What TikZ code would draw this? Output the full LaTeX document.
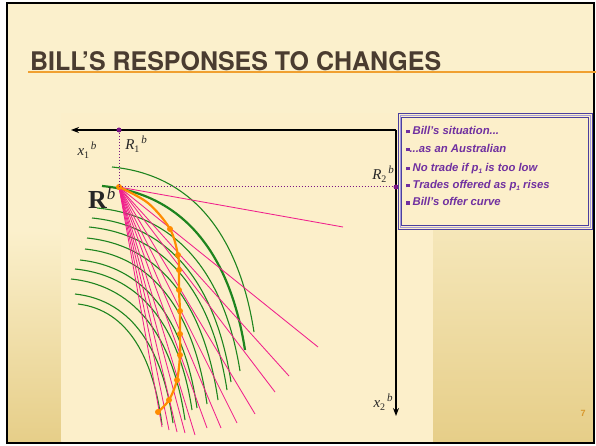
\documentclass[tikz,border=0pt]{standalone}
\usepackage{fontspec}
\setmainfont{Liberation Serif}
\newfontfamily\boxfont{Liberation Sans}
\newfontfamily\titlefont{TeX Gyre Heros}
\usetikzlibrary{arrows.meta}
\definecolor{pale}{HTML}{FBF0CC}
\definecolor{gold}{HTML}{E6CE88}
\definecolor{panel}{HTML}{FCEFCA}
\definecolor{titlebrown}{HTML}{4A3C30}
\definecolor{titleline}{HTML}{F0A030}
\definecolor{icgreen}{HTML}{1E841E}
\definecolor{budget}{HTML}{F0208C}
\definecolor{offer}{HTML}{FF8C00}
\definecolor{dotpurple}{HTML}{7A1585}
\definecolor{boxtext}{HTML}{7030A0}
\definecolor{boxdark}{HTML}{4B3F9E}
\definecolor{boxlight}{HTML}{A49ADA}
\definecolor{pagenum}{HTML}{D8982E}
\newcommand\sqb{\textcolor{boxtext}{\rule[1.5pt]{3.3pt}{3.3pt}}}
\newcommand\sbone{\raisebox{-1.3pt}{\fontsize{6.5}{6.5}\selectfont 1}}
\newcommand\axlab[3]{{\fontsize{15}{15}\selectfont\textit{#1}\raisebox{-3.5pt}{\fontsize{10}{10}\selectfont #2}\raisebox{6pt}{\fontsize{11}{11}\selectfont\,\textit{#3}}}}
\tikzset{
  axis/.style={black, line width=1.4pt, -{Stealth[length=8pt,width=6pt]}},
  icurve/.style={icgreen, line width=1.1pt},
  icthick/.style={icgreen, line width=2.2pt},
  budgetline/.style={budget, line width=0.85pt},
  offercurve/.style={offer, line width=2.2pt},
  odot/.style={circle, fill=offer, inner sep=0pt, minimum size=6pt},
  pdot/.style={circle, fill=dotpurple, inner sep=0pt, minimum size=5pt},
  guide/.style={dotpurple, line width=1pt, dotted},
  boxline/.style={anchor=base west, inner sep=0pt, text=boxtext, font=\boxfont\bfseries\itshape\fontsize{11.3}{13}\selectfont},
  lab/.style={inner sep=0pt, text=black!85}
}
\begin{document}
\begin{tikzpicture}[x=1pt,y=-1pt]
\useasboundingbox (0,0) rectangle (596,446);
% slide background
\fill[white] (0,0) rectangle (596,446);
\fill[pale] (7,3) rectangle (594,443);
\shade[top color=pale, bottom color=gold] (433,150) rectangle (594,443);
\shade[top color=pale, bottom color=gold] (7,230) rectangle (61,443);
\fill[panel] (61,113) rectangle (433,441);
\draw[black, line width=1.6pt] (7,3) rectangle (594,443);
% title
\draw[titleline, line width=2pt] (28,72) -- (596,72);
\node[anchor=south west, inner sep=0pt, text=titlebrown] (title) at (30,71)
  {\resizebox{411pt}{19pt}{\titlefont\bfseries BILL’S RESPONSES TO CHANGES}};
% axes
\coordinate (O) at (396,130);
\coordinate (xend) at (71,130);
\coordinate (yend) at (396,416);
\draw[axis] (O) -- (xend);
\draw[axis] (O) -- (yend);
% indifference curves
\foreach \sx/\sy/\ex/\ey in {112/167/254/332, 97/208/240/371, 92/218/231/382, 89/227/227/390,
  87/238/218/400, 85/249/207/404, 80/260/197/408, 75/269/192/410, 71/279/185/420,
  75/294/173/423, 78/304/162/425}
  \draw[icurve] (\sx,\sy) .. controls ({\sx+0.6*(\ex-\sx)},{\sy+0.05*(\ey-\sy)}) and ({\ex-0.1*(\ex-\sx)},{\sy+0.45*(\ey-\sy)}) .. (\ex,\ey);
\draw[icthick] (102,186) .. controls (188,194) and (231,260) .. (245,350);
% endowment
\coordinate (E) at (119,187);
% budget lines
\foreach \x/\y [count=\i] in {343/227, 318/347, 289/376, 275/392, 255/414, 237/423,
  221/428, 207/428, 195/435, 185/433, 177/432, 169/430, 162/427}
  {\coordinate (pe\i) at (\x,\y); \draw[budgetline] (E) -- (pe\i);}
% offer curve
\draw[offercurve] plot[smooth, tension=0.55] coordinates {(119,187) (148,203) (170,229) (178,255) (179,270) (179,290) (180,311) (180,334) (180,355) (177,380) (169,400) (158,412)};
\foreach \x/\y [count=\i] in {119/187, 170/229, 178/255, 179/270, 179/290, 180/311, 180/334, 180/355, 177/380, 169/400, 158/412}
  \node[odot] (od\i) at (\x,\y) {};
\node[pdot] (R1) at (119,130) {};
\node[pdot] (R2) at (396,187) {};
\draw[guide] (R1) -- (E) -- (R2);
% labels
\node[lab] (lx1) at (87,150) {\axlab{x}{1}{b}};
\node[lab] (lr1) at (136,144) {\axlab{R}{1}{b}};
\node[lab] (lr2) at (383,174) {\axlab{R}{2}{b}};
\node[lab] (lx2) at (383,402) {\axlab{x}{2}{b}};
\node[lab, anchor=base west] (lR) at (88,208) {{\fontsize{26}{26}\selectfont\bfseries R}\raisebox{9pt}{\fontsize{17}{17}\selectfont\textit{b}}};
% info box
\draw[boxdark, line width=1pt, fill=panel] (398,114) rectangle (592,229);
\draw[boxlight, line width=1pt] (400,116) rectangle (590,227);
\draw[boxdark, line width=0.6pt] (401.5,117.5) rectangle (588.5,225.5);
\node[boxline] (b1) at (406,135) {\sqb\ Bill’s situation...};
\node[boxline] (b2) at (406,153) {\sqb...as an Australian};
\node[boxline] (b3) at (406,172) {\sqb\ No trade if p\sbone\ is too low};
\node[boxline] (b4) at (406,189) {\sqb\ Trades offered as p\sbone\ rises};
\node[boxline] (b5) at (406,206) {\sqb\ Bill’s offer curve};
% page number
\node[inner sep=0pt, text=pagenum, font=\boxfont\bfseries\fontsize{9}{9}\selectfont] (pg) at (583,413) {7};
\end{tikzpicture}
\end{document}
